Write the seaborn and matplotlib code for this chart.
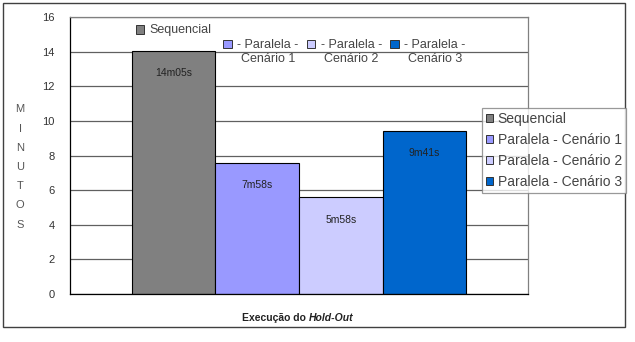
import numpy as np
import pandas as pd
import matplotlib.pyplot as plt
import matplotlib.patches as mpatches
from matplotlib.offsetbox import TextArea, DrawingArea, HPacker, AnnotationBbox
import seaborn as sns

#%% Dati

series = ["Sequencial", "Paralela - Cenário 1", "Paralela - Cenário 2", "Paralela - Cenário 3"]
minutes = [14.05, 7.58, 5.58, 9.41]
bar_labels = ["14m05s", "7m58s", "5m58s", "9m41s"]
top_labels = ["Sequencial", "- Paralela -\nCenário 1", "- Paralela -\nCenário 2", "- Paralela -\nCenário 3"]
colors = ["#808080", "#9999FF", "#CCCCFF", "#0066CC"]
y_ticks = [0, 2, 4, 6, 8, 10, 12, 14, 16]
category = "Execução do Hold-Out"

df = pd.DataFrame({"exec": [category] * len(series), "serie": series, "min": minutes})

#%% Plot

sns.set_style("white")
plt.rcParams["font.family"] = ["Liberation Sans", "DejaVu Sans"]

fig = plt.figure(figsize=(6.35, 3.42), dpi=100)
ax = fig.add_axes([70 / 635, 1 - 294 / 342, 458 / 635, 277 / 342])

sns.barplot(data=df, x="exec", y="min", hue="serie", hue_order=series,
            palette=dict(zip(series, colors)), saturation=1, width=0.73, gap=0,
            edgecolor="black", linewidth=0.8, legend=False, ax=ax)

ax.set_xlim(-0.5, 0.5)
ax.set_ylim(0, 16)
ax.set_yticks(y_ticks)
ax.set_yticklabels([str(t) for t in y_ticks], fontsize=8, color="#333333")
ax.set_xticks([-0.5, 0.5])
ax.set_xticklabels(["", ""])
ax.tick_params(axis="both", direction="out", length=4, width=0.8, color="black", pad=7)
ax.set_xlabel("")
ax.set_ylabel("")

ax.set_axisbelow(True)
ax.yaxis.grid(True, color="#606060", linewidth=0.9)
for side in ["left", "bottom"]:
    ax.spines[side].set_color("black")
    ax.spines[side].set_linewidth(0.9)
for side in ["top", "right"]:
    ax.spines[side].set_color("#808080")
    ax.spines[side].set_linewidth(0.9)

# etichette dentro le barre + etichette serie in alto
for i, cont in enumerate(ax.containers):
    bar = cont[0]
    xc = bar.get_x() + bar.get_width() / 2
    h = bar.get_height()
    ax.annotate(bar_labels[i], (xc, h), xytext=(0, -16), textcoords="offset points",
                ha="center", va="center", fontsize=7.5, color="#222222")

    da = DrawingArea(7, 7, 0, 0)
    da.add_artist(mpatches.Rectangle((0, 0), 6, 6, facecolor=colors[i],
                                     edgecolor="#333333", linewidth=0.7))
    ta = TextArea(top_labels[i], textprops=dict(fontsize=9, color="#444444",
                                                multialignment="center"))
    box = HPacker(children=[da, ta], align="top", pad=0, sep=3)
    y_lab = h + 1.2 if i == 0 else 14.0
    ab = AnnotationBbox(box, (xc + (0 if i == 0 else 0.008), y_lab), xycoords="data",
                        frameon=False, box_alignment=(0.5, 0.5), pad=0)
    ax.add_artist(ab)

# legenda a destra
handles = [mpatches.Rectangle((0, 0), 1, 1, facecolor=c, edgecolor="#333333", linewidth=0.7)
           for c in colors]
leg = fig.legend(handles, series, loc="upper right", bbox_to_anchor=(626 / 635, 1 - 108 / 342),
                 bbox_transform=fig.transFigure, fontsize=10, frameon=True, fancybox=False,
                 handlelength=0.55, handleheight=0.55, handletextpad=0.3, labelspacing=0.5,
                 borderpad=0.3, borderaxespad=0)
leg.get_frame().set_edgecolor("#808080")
leg.get_frame().set_linewidth(0.9)
for t in leg.get_texts():
    t.set_color("#444444")

# asse y: lettere in verticale
fig.text(20 / 635, 1 - 167 / 342, "\n".join("MINUTOS"), ha="center", va="center",
         fontsize=8, color="#555555", linespacing=2.15)

# asse x: "Execução do Hold-Out" con Hold-Out in corsivo
t1 = TextArea("Execução do ", textprops=dict(fontsize=7.5, color="#222222", fontweight="bold"))
t2 = TextArea("Hold-Out", textprops=dict(fontsize=7.5, color="#222222", fontweight="bold",
                                         fontstyle="italic"))
xl = AnnotationBbox(HPacker(children=[t1, t2], align="baseline", pad=0, sep=0),
                    (298 / 635, 1 - 318 / 342), xycoords="figure fraction",
                    frameon=False, box_alignment=(0.5, 0.5), pad=0)
fig.add_artist(xl)

# cornice esterna
fig.add_artist(mpatches.Rectangle((3 / 635, 1 - 327 / 342), 622 / 635, 324 / 342,
                                  transform=fig.transFigure, fill=False,
                                  edgecolor="#404040", linewidth=1.0))

fig.savefig("out.png", dpi=100)
